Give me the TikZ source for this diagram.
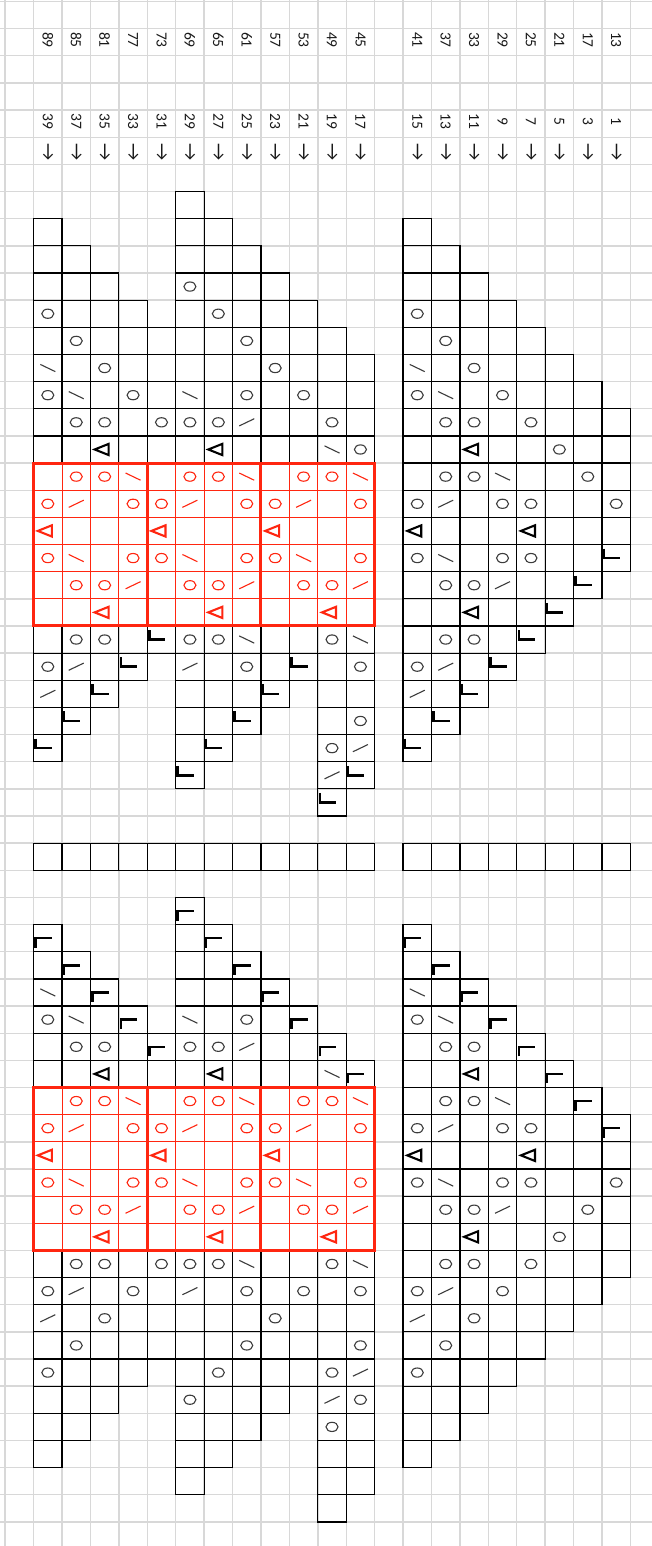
\documentclass[tikz,border=0pt]{standalone}
\usepackage{fontspec}
\setmainfont{Carlito}
\newfontfamily\arrowfont{DejaVu Sans}
\definecolor{gridgray}{RGB}{216,216,216}
\definecolor{chartred}{RGB}{255,38,16}
\definecolor{symgray}{RGB}{60,60,60}
\tikzset{
  gridline/.style={draw=gridgray, line width=1.4},
  cellline/.style={draw=black, line width=1.2},
  redthin/.style={draw=chartred, line width=0.9},
  redthick/.style={draw=chartred, line width=3},
  lab/.style={font=\fontsize{15.5}{15.5}\selectfont, text=black!90, inner sep=0pt},
  arr/.style={font=\fontsize{19}{19}\selectfont, text=black!90, inner sep=0pt},
}
% symbol macros: #1 cx, #2 cy, #3 light colour, #4 dark colour
\newcommand\kcn[4]{}
\newcommand\kcr[4]{}
\newcommand\kco[4]{\draw[#3,line width=1.1] (#1,#2) ellipse [x radius=6,y radius=4.6];}
\newcommand\kcb[4]{\draw[#3,line width=1.1] ({#1-7.5},{#2-3.6}) -- ({#1+7.5},{#2+3.6});}
\newcommand\kcf[4]{\draw[#3,line width=1.1] ({#1-7.5},{#2+3.6}) -- ({#1+7.5},{#2-3.6});}
\newcommand\kct[4]{\draw[#4,line width=2.1,line join=miter] ({#1-10},{#2}) -- ({#1+4},{#2-5.6}) -- ({#1+4},{#2+5.6}) -- cycle;}
\newcommand\kcL[4]{\draw[#4,line width=2.5] ({#1-12.2},{#2-9.5}) -- ({#1-12.2},{#2}) -- ({#1+4},{#2});}
\newcommand\kcG[4]{\draw[#4,line width=2.5] ({#1-12.2},{#2+9.5}) -- ({#1-12.2},{#2}) -- ({#1+4},{#2});}
% one column of cells: #1 column, #2 top row, #3 symbol list
\newcommand\kccol[3]{%
  \foreach \ks [count=\ki from 0] in {#3} {%
    \pgfmathsetmacro\kxa{33.6+28.42*(#1)}%
    \pgfmathsetmacro\kya{1.5+27.15*(#2+\ki)}%
    \pgfmathsetmacro\kcx{\kxa+14.21}%
    \pgfmathsetmacro\kcy{\kya+13.575}%
    \draw[cellline] (\kxa,\kya) rectangle ++(28.42,27.15);%
    \csname kc\ks\endcsname{\kcx}{\kcy}{symgray}{black}%
  }}
% red repeat block: #1 first column, #2 first row
\newcommand\kcred[2]{%
  \pgfmathsetmacro\krx{33.6+28.42*(#1)}%
  \pgfmathsetmacro\kry{1.5+27.15*(#2)}%
  \fill[white] (\krx,\kry) rectangle ++(113.68,162.9);%
  \foreach \kj in {1,2,3} {\draw[redthin] ({\krx+28.42*\kj},\kry) -- ++(0,162.9);}%
  \foreach \kj in {1,...,5} {\draw[redthin] (\krx,{\kry+27.15*\kj}) -- ++(113.68,0);}%
  \foreach \kr/\kl in {0/{n,o,o,b},1/{o,f,n,o},2/{t,n,n,n},3/{o,b,n,o},4/{n,o,o,f},5/{n,n,t,n}} {%
    \foreach \ks [count=\ki from 0] in \kl {%
      \pgfmathsetmacro\kcx{\krx+28.42*\ki+14.21}%
      \pgfmathsetmacro\kcy{\kry+27.15*\kr+13.575}%
      \csname kc\ks\endcsname{\kcx}{\kcy}{chartred}{chartred}%
    }}%
  \draw[redthick] (\krx,\kry) rectangle ++(113.68,162.9);%
}
\begin{document}
\begin{tikzpicture}[x=1pt,y=-1pt]
\useasboundingbox (0,0) rectangle (652,1546);
\fill[white] (0,0) rectangle (652,1546);
% background grid
\foreach \kj in {0,...,22} {\draw[gridline] ({5.18+28.42*\kj},0) -- ({5.18+28.42*\kj},1546);}
\foreach \kj in {0,...,56} {\draw[gridline] (0,{1.5+27.15*\kj}) -- (652,{1.5+27.15*\kj});}
% labels
\foreach \kk/\kn in {0/89,1/85,2/81,3/77,4/73,5/69,6/65,7/61,8/57,9/53,10/49,11/45,13/41,14/37,15/33,16/29,17/25,18/21,19/17,20/13}
  {\node[lab,rotate=-90] (top\kn) at ({33.6+28.42*\kk+14.21},40) {\kn};}
\foreach \kk/\kn in {0/39,1/37,2/35,3/33,4/31,5/29,6/27,7/25,8/23,9/21,10/19,11/17,13/15,14/13,15/11,16/9,17/7,18/5,19/3,20/1}
  {\node[lab,rotate=-90] (row\kn) at ({33.6+28.42*\kk+14.21},121.5) {\kn};}
\foreach \kk in {0,...,11,13,14,...,20}
  {\node[arr,rotate=-90] (arrow\kk) at ({33.6+28.42*\kk+14.21},152) {→};}
% upper chart, left
\kccol{0}{8}{n,n,n,o,n,b,o,n,n,r,r,r,r,r,r,n,o,f,n,L}
\kccol{1}{9}{n,n,n,o,n,b,o,n,r,r,r,r,r,r,o,f,n,L}
\kccol{2}{10}{n,n,n,o,n,o,t,r,r,r,r,r,r,o,n,L}
\kccol{3}{11}{n,n,n,o,n,n,r,r,r,r,r,r,n,L}
\kccol{4}{12}{n,n,n,o,n,r,r,r,r,r,r,L}
\kccol{5}{7}{n,n,n,o,n,n,n,b,o,n,r,r,r,r,r,r,o,f,n,n,n,L}
\kccol{6}{8}{n,n,n,o,n,n,n,o,t,r,r,r,r,r,r,o,n,n,n,L}
\kccol{7}{9}{n,n,n,o,n,o,f,n,r,r,r,r,r,r,b,o,n,L}
\kccol{8}{10}{n,n,n,o,n,n,n,r,r,r,r,r,r,n,n,L}
\kccol{9}{11}{n,n,n,o,n,n,r,r,r,r,r,r,n,L}
\kccol{10}{12}{n,n,n,o,b,r,r,r,r,r,r,o,n,n,n,o,f,L}
\kccol{11}{13}{n,n,n,o,r,r,r,r,r,r,b,o,n,o,f,L}
% upper chart, right
\kccol{13}{8}{n,n,n,o,n,b,o,n,n,n,o,t,o,n,n,n,o,f,n,L}
\kccol{14}{9}{n,n,n,o,n,b,o,n,o,f,n,b,o,n,o,f,n,L}
\kccol{15}{10}{n,n,n,o,n,o,t,o,n,n,n,o,t,o,n,L}
\kccol{16}{11}{n,n,n,o,n,n,b,o,n,o,f,n,n,L}
\kccol{17}{12}{n,n,n,o,n,n,o,t,o,n,n,L}
\kccol{18}{13}{n,n,n,o,n,n,n,n,n,L}
\kccol{19}{14}{n,n,n,o,n,n,n,L}
\kccol{20}{15}{n,n,n,o,n,L}
% separator rows
\foreach \kk in {0,...,11,13,14,...,20} {\kccol{\kk}{31}{n}}
% lower chart, left
\kccol{0}{34}{G,n,b,o,n,n,r,r,r,r,r,r,n,o,f,n,o,n,n,n}
\kccol{1}{35}{G,n,b,o,n,r,r,r,r,r,r,o,f,n,o,n,n,n}
\kccol{2}{36}{G,n,o,t,r,r,r,r,r,r,o,n,o,n,n,n}
\kccol{3}{37}{G,n,n,r,r,r,r,r,r,n,o,n,n,n}
\kccol{4}{38}{G,n,r,r,r,r,r,r,o,n,n,n}
\kccol{5}{33}{G,n,n,n,b,o,n,r,r,r,r,r,r,o,f,n,n,n,o,n,n,n}
\kccol{6}{34}{G,n,n,n,o,t,r,r,r,r,r,r,o,n,n,n,o,n,n,n}
\kccol{7}{35}{G,n,o,f,n,r,r,r,r,r,r,b,o,n,o,n,n,n}
\kccol{8}{36}{G,n,n,n,r,r,r,r,r,r,n,n,o,n,n,n}
\kccol{9}{37}{G,n,n,r,r,r,r,r,r,n,o,n,n,n}
\kccol{10}{38}{G,b,r,r,r,r,r,r,o,n,n,n,o,f,o,n,n,n}
\kccol{11}{39}{G,r,r,r,r,r,r,b,o,n,o,f,o,n,n,n}
% lower chart, right
\kccol{13}{34}{G,n,b,o,n,n,n,o,t,o,n,n,n,o,f,n,o,n,n,n}
\kccol{14}{35}{G,n,b,o,n,o,f,n,b,o,n,o,f,n,o,n,n,n}
\kccol{15}{36}{G,n,o,t,o,n,n,n,o,t,o,n,o,n,n,n}
\kccol{16}{37}{G,n,n,b,o,n,o,f,n,n,o,n,n,n}
\kccol{17}{38}{G,n,n,o,t,o,n,n,o,n,n,n}
\kccol{18}{39}{G,n,n,n,n,n,o,n,n,n}
\kccol{19}{40}{G,n,n,n,o,n,n,n}
\kccol{20}{41}{G,n,o,n,n,n}
% red repeat blocks
\kcred{0}{17}\kcred{4}{17}\kcred{8}{17}
\kcred{0}{40}\kcred{4}{40}\kcred{8}{40}
\end{tikzpicture}
\end{document}
